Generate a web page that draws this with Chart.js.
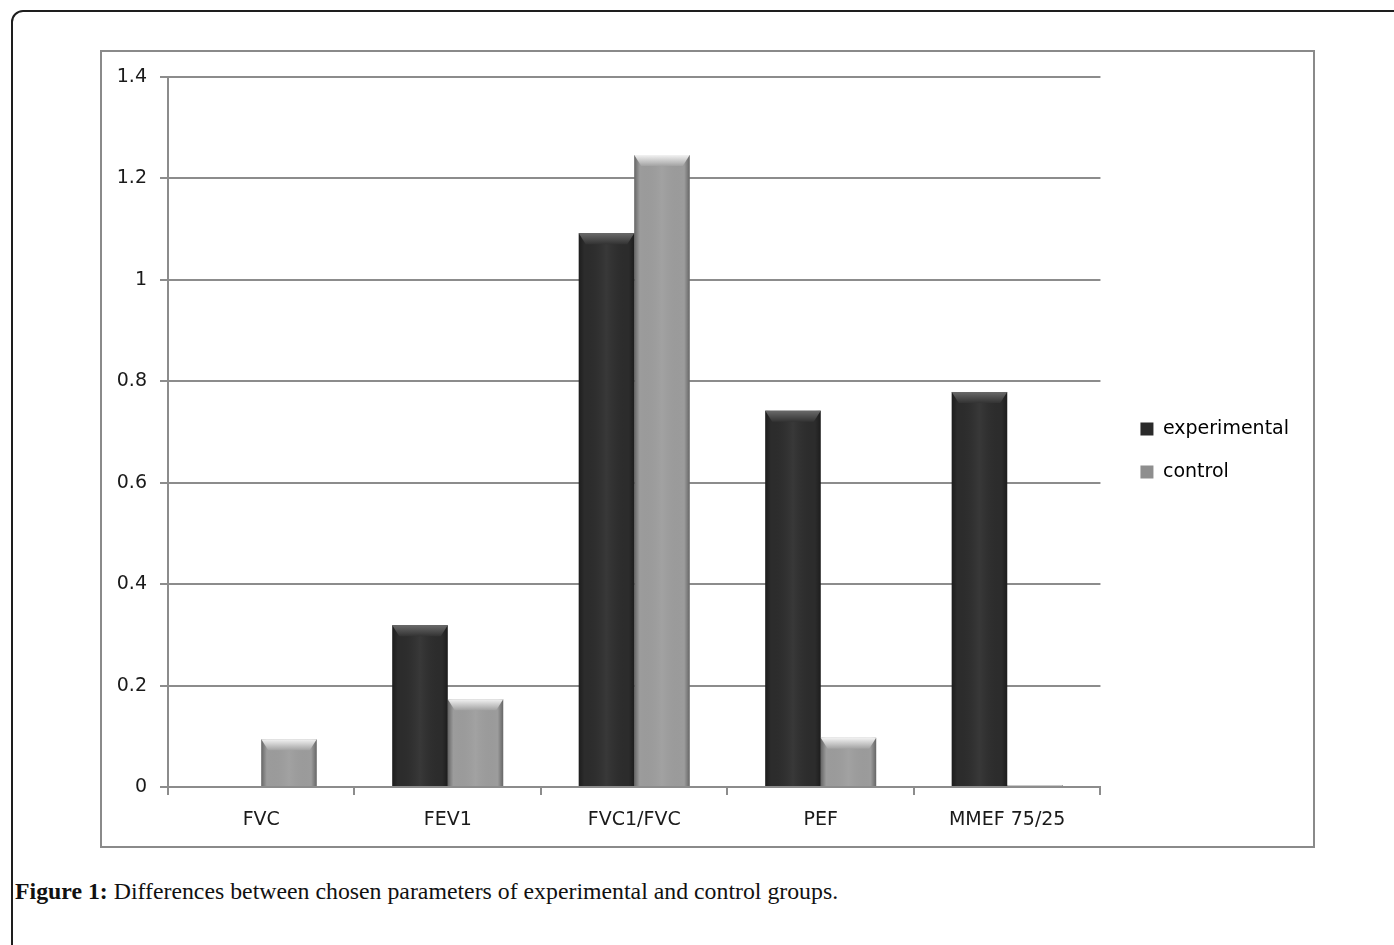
<!DOCTYPE html>
<html>
<head>
    <title>Figure 1</title>
    <script src="https://cdn.jsdelivr.net/npm/chart.js"></script>
    <style>
        body {
            margin: 0;
            background: #fff;
            width: 1394px;
            height: 945px;
            overflow: hidden;
            position: relative;
        }
        #frame {
            position: absolute;
            left: 11px;
            top: 10px;
            width: 1420px;
            height: 980px;
            border: 2px solid #1e1e1e;
            border-radius: 12px;
            box-sizing: border-box;
        }
        #chart-box {
            position: absolute;
            left: 100px;
            top: 50px;
            width: 1215px;
            height: 798px;
            border: 2px solid #8a8a8a;
            box-sizing: border-box;
        }
        #chart-container {
            width: 1211px;
            height: 794px;
        }
        #caption {
            position: absolute;
            left: 15px;
            top: 878px;
            font-family: "Liberation Serif", serif;
            font-size: 23.8px;
            color: #111;
            white-space: nowrap;
        }
    </style>
</head>
<body>
    <div id="frame"></div>
    <div id="chart-box">
        <div id="chart-container">
            <canvas id="diffChart"></canvas>
        </div>
    </div>
    <div id="caption"><b>Figure 1:</b> Differences between chosen parameters of experimental and control groups.</div>
    <script>
        const categories = ['FVC', 'FEV1', 'FVC1/FVC', 'PEF', 'MMEF 75/25'];
        const experimental = [0, 0.319, 1.092, 0.742, 0.779];
        const control = [0.094, 0.173, 1.246, 0.097, 0.004];
        const yTickValues = [0, 0.2, 0.4, 0.6, 0.8, 1, 1.2, 1.4];

        const gridColor = '#8c8c8c';

        // top bevel colours per dataset: [light, base]
        const bevels = [['#6a6a6a', '#333333'], ['#f2f2f2', '#a2a2a2']];

        // gives the bars a bit of the old Excel 3D look
        const bevelPlugin = {
            id: 'bevel',
            afterDatasetsDraw(chart) {
                const ctx = chart.ctx;
                chart.data.datasets.forEach((ds, di) => {
                    const meta = chart.getDatasetMeta(di);
                    meta.data.forEach(bar => {
                        const { x, y, base, width } = bar.getProps(['x', 'y', 'base', 'width'], true);
                        const h = base - y;
                        if (h < 1) return;
                        const left = x - width / 2;
                        ctx.save();
                        const side = ctx.createLinearGradient(left, 0, left + width, 0);
                        side.addColorStop(0, 'rgba(0,0,0,0.35)');
                        side.addColorStop(0.1, 'rgba(0,0,0,0)');
                        side.addColorStop(0.5, 'rgba(255,255,255,0.06)');
                        side.addColorStop(0.9, 'rgba(0,0,0,0)');
                        side.addColorStop(1, 'rgba(0,0,0,0.35)');
                        ctx.fillStyle = side;
                        ctx.fillRect(left, y, width, h);
                        const bh = Math.min(11, h);
                        const inset = Math.min(7, bh * 0.7);
                        const top = ctx.createLinearGradient(0, y, 0, y + bh);
                        top.addColorStop(0, bevels[di][0]);
                        top.addColorStop(1, bevels[di][1]);
                        ctx.fillStyle = top;
                        ctx.beginPath();
                        ctx.moveTo(left, y);
                        ctx.lineTo(left + width, y);
                        ctx.lineTo(left + width - inset, y + bh);
                        ctx.lineTo(left + inset, y + bh);
                        ctx.closePath();
                        ctx.fill();
                        ctx.restore();
                    });
                });
            }
        };

        // nudge the legend off the plot edge like the original
        const legendShift = {
            id: 'legendShift',
            afterLayout(chart) {
                const lg = chart.legend;
                if (!lg) return;
                lg.left += 16; lg.right += 16;
                lg.top -= 11; lg.bottom -= 11;
            }
        };

        Chart.defaults.font.family = '"DejaVu Sans", sans-serif';
        Chart.defaults.font.size = 19;
        Chart.defaults.color = '#1a1a1a';

        const ctx = document.getElementById('diffChart').getContext('2d');
        new Chart(ctx, {
            type: 'bar',
            data: {
                labels: categories,
                datasets: [{
                    label: 'experimental',
                    data: experimental,
                    backgroundColor: '#2c2c2c',
                    borderWidth: 0
                }, {
                    label: 'control',
                    data: control,
                    backgroundColor: '#9c9c9c',
                    borderWidth: 0
                }]
            },
            options: {
                responsive: true,
                maintainAspectRatio: false,
                animation: false,
                categoryPercentage: 0.595,
                barPercentage: 1,
                layout: {
                    padding: { top: 25, right: 30, bottom: 0, left: 0 }
                },
                plugins: {
                    tooltip: { enabled: false },
                    legend: {
                        position: 'right',
                        labels: {
                            boxWidth: 13,
                            boxHeight: 13,
                            padding: 24,
                            color: '#1a1a1a',
                            generateLabels(chart) {
                                return chart.data.datasets.map((ds, i) => ({
                                    text: ds.label,
                                    fillStyle: i === 0 ? '#2a2a2a' : '#8e8e8e',
                                    strokeStyle: i === 0 ? '#2a2a2a' : '#8e8e8e',
                                    lineWidth: 0,
                                    datasetIndex: i
                                }));
                            }
                        }
                    }
                },
                scales: {
                    x: {
                        grid: {
                            drawOnChartArea: false,
                            drawTicks: true,
                            tickLength: 8,
                            color: gridColor,
                            lineWidth: 2
                        },
                        border: { display: true, color: gridColor, width: 2 },
                        ticks: { padding: 14, color: '#1a1a1a' },
                        afterFit(scale) { scale.height = 59; }
                    },
                    y: {
                        min: 0,
                        max: 1.4,
                        afterBuildTicks(scale) {
                            scale.ticks = yTickValues.map(v => ({ value: v }));
                        },
                        grid: {
                            color: gridColor,
                            lineWidth: 2,
                            tickLength: 8
                        },
                        border: { display: true, color: gridColor, width: 2 },
                        ticks: {
                            padding: 13,
                            color: '#1a1a1a',
                            callback: v => String(+v.toFixed(1))
                        },
                        afterFit(scale) { scale.width = 66; }
                    }
                }
            },
            plugins: [bevelPlugin, legendShift]
        });
    </script>
</body>
</html>
